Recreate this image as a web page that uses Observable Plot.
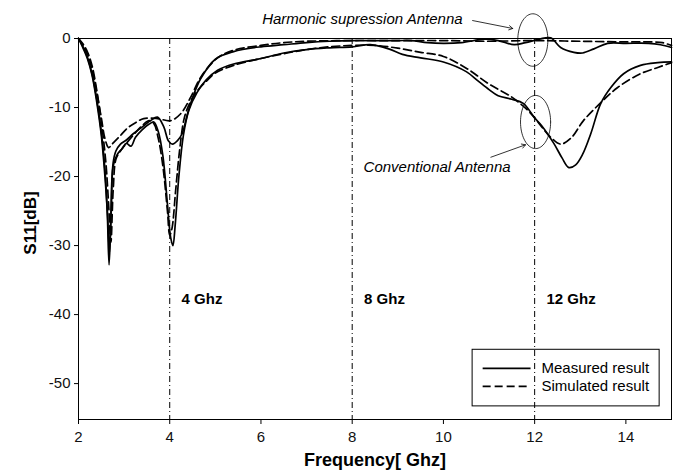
<!DOCTYPE html>
<html><head><meta charset="utf-8">
<script src="https://cdn.jsdelivr.net/npm/d3@7"></script>
<script src="https://cdn.jsdelivr.net/npm/@observablehq/plot@0.6"></script>
<style>body{margin:0;background:#fff}</style>
</head><body><div id="chart"></div>
<script>
// Frequency (GHz), S11 (dB)
const convMeasured = [[2.0,0],[2.1,-1.2],[2.2,-2.8],[2.3,-5.2],[2.4,-8.8],[2.5,-13.5],[2.58,-19],[2.63,-25],[2.67,-32.8],[2.71,-26],[2.76,-18.5],[2.85,-16.8],[2.95,-16],[3.05,-15.2],[3.15,-15.6],[3.25,-14.3],[3.4,-13.2],[3.55,-12.4],[3.65,-12.1],[3.75,-13.5],[3.85,-17],[3.95,-24],[4.02,-28.8],[4.07,-30],[4.12,-27],[4.2,-20],[4.3,-14],[4.42,-10.4],[4.6,-7.8],[4.8,-6.0],[5.05,-4.6],[5.4,-3.7],[6.0,-2.9],[6.5,-2.1],[7.0,-1.6],[7.5,-1.35],[8.0,-1.2],[8.4,-0.9],[8.8,-1.5],[9.1,-2.3],[9.5,-2.8],[10.0,-3.4],[10.5,-4.8],[10.75,-6.1],[11.0,-7.4],[11.2,-8.3],[11.5,-8.8],[11.75,-9.4],[12.0,-11.5],[12.15,-12.6],[12.42,-15.2],[12.6,-17.3],[12.75,-18.7],[12.9,-18.3],[13.05,-16.8],[13.23,-13.8],[13.45,-9.4],[13.67,-7.1],[13.95,-5.1],[14.32,-3.9],[14.7,-3.5],[15.0,-3.4]];
const convSimulated = [[2.0,0],[2.1,-0.8],[2.2,-2.0],[2.3,-4.0],[2.4,-7.5],[2.5,-12],[2.6,-18],[2.66,-24],[2.71,-29.5],[2.76,-22],[2.82,-17.5],[2.9,-16.5],[3.0,-15.6],[3.2,-14],[3.4,-12.6],[3.55,-11.9],[3.65,-12.3],[3.75,-14.5],[3.85,-18.5],[3.95,-25],[4.0,-28.5],[4.05,-27.5],[4.13,-22],[4.22,-16],[4.32,-11.5],[4.45,-9.2],[4.6,-7.6],[4.8,-6.2],[5.0,-5.0],[5.4,-3.9],[6.0,-2.9],[6.5,-2.2],[7.0,-1.6],[7.5,-1.2],[8.0,-1.0],[8.5,-1.0],[9.0,-1.4],[9.5,-2.0],[10.0,-2.6],[10.5,-4.3],[11.0,-6.6],[11.5,-8.5],[11.8,-10.1],[12.0,-11.5],[12.13,-12.6],[12.35,-14.3],[12.57,-15.3],[12.8,-14.4],[13.07,-11.9],[13.45,-9.3],[13.82,-7.1],[14.32,-5.1],[14.7,-4.2],[15.0,-3.5]];
const harmMeasured = [[2.0,0],[2.1,-1.4],[2.2,-3.0],[2.3,-5.4],[2.4,-9.2],[2.5,-14],[2.58,-20],[2.64,-26],[2.68,-31],[2.72,-24],[2.76,-18],[2.82,-16.3],[2.92,-15.3],[3.05,-14.7],[3.2,-13.8],[3.4,-12.8],[3.58,-11.9],[3.73,-11.4],[3.87,-12.8],[3.97,-14.8],[4.06,-15.3],[4.17,-14.8],[4.27,-13.8],[4.39,-10.9],[4.5,-8.6],[4.68,-5.8],[5.0,-3.0],[5.4,-1.9],[6.0,-1.2],[6.5,-0.9],[7.0,-0.6],[7.5,-0.4],[8.0,-0.3],[8.5,-0.3],[9.0,-0.3],[9.3,-0.3],[9.65,-0.6],[10.0,-0.7],[10.4,-0.6],[10.9,-0.1],[11.2,-0.3],[11.55,-0.9],[11.8,-0.6],[12.1,-0.1],[12.35,0.1],[12.57,-1.3],[12.86,-2.0],[13.05,-2.1],[13.3,-1.5],[13.6,-0.7],[14.0,-0.7],[14.5,-0.7],[14.76,-0.9],[15.0,-1.3]];
const harmSimulated = [[2.0,0],[2.1,-1.0],[2.2,-2.3],[2.3,-4.5],[2.4,-7.8],[2.5,-11.5],[2.58,-14.5],[2.66,-15.8],[2.75,-15.2],[2.9,-14.2],[3.07,-13],[3.25,-12.2],[3.43,-11.6],[3.73,-11.6],[4.02,-11.9],[4.24,-10.9],[4.46,-8.5],[4.68,-5.6],[5.05,-2.8],[5.4,-1.7],[6.0,-1.0],[6.5,-0.6],[7.0,-0.4],[8.0,-0.3],[9.0,-0.3],[10.0,-0.3],[11.0,-0.4],[12.0,-0.3],[13.0,-0.4],[14.0,-0.5],[14.6,-0.5],[14.8,-0.6],[15.0,-1.0]];

const xTicks = [2,4,6,8,10,12,14];
const yTicks = [0,-10,-20,-30,-40,-50];
const markerFreqs = [4,8,12];
const markerLabels = ["4 Ghz","8 Ghz","12 Ghz"];
const legendNames = ["Measured result","Simulated result"];
const annotationTexts = ["Harmonic supression Antenna","Conventional Antenna"];

// annotation geometry (data units)
function ellipse(cx, cy, rx, ry) {
  return d3.range(0, 73).map(i => {
    const t = i / 72 * 2 * Math.PI;
    return {x: cx + rx * Math.cos(t), y: cy + ry * Math.sin(t)};
  });
}
const ell1 = ellipse(11.96, -0.22, 0.33, 3.8);
const ell2 = ellipse(12.02, -12.1, 0.33, 3.85);
const arrows = [
  {x1: 10.64, y1: 2.6, x2: 11.52, y2: 1.45},
  {x1: 11.04, y1: -17.2, x2: 11.8, y2: -15.4}
];
const annotEnd = [{x: 10.42, y: 2.75, t: annotationTexts[0]}];
const annotStart = [{x: 8.25, y: -18.7, t: annotationTexts[1]}];
const legendBox = [{x1: 10.64, x2: 14.74, y1: -45.1, y2: -53.3}];
const legendSolid = [{x1: 10.86, x2: 11.91, y: -47.8, tx: 12.15, name: legendNames[0]}];
const legendDashed = [{x1: 10.86, x2: 11.91, y: -50.4, tx: 12.15, name: legendNames[1]}];
const markers = markerFreqs.map((f, i) => ({f, label: markerLabels[i]}));

const fx = d => d[0], fy = d => d[1];
const solid = {x: fx, y: fy, curve: "catmull-rom", stroke: "black", strokeWidth: 1.7};
const dashed = {...solid, strokeDasharray: "8,4"};

const chart = Plot.plot({
  width: 678, height: 471,
  marginLeft: 78, marginRight: 7, marginTop: 38, marginBottom: 52,
  style: {fontFamily: "'Liberation Sans', Arial, sans-serif", fontSize: "15px", color: "black", background: "white", overflow: "visible"},
  x: {domain: [2, 15]},
  y: {domain: [-55.2, 0]},
  marks: [
    Plot.ruleX(markers, {x: "f", stroke: "black", strokeWidth: 1, strokeDasharray: "6,3,1,3"}),
    Plot.text(markers, {x: d => d.f + 0.26, y: -37.7, text: "label", textAnchor: "start", fontWeight: "bold", fontSize: 15}),
    Plot.line(convMeasured, solid),
    Plot.line(convSimulated, dashed),
    Plot.line(harmMeasured, solid),
    Plot.line(harmSimulated, dashed),
    Plot.line(ell1, {x: "x", y: "y", stroke: "black", strokeWidth: 0.8}),
    Plot.line(ell2, {x: "x", y: "y", stroke: "black", strokeWidth: 0.8}),
    Plot.arrow(arrows, {x1: "x1", y1: "y1", x2: "x2", y2: "y2", bend: 0, headLength: 8, strokeWidth: 0.8, stroke: "black"}),
    Plot.text(annotEnd, {x: "x", y: "y", text: "t", textAnchor: "end", fontStyle: "italic", fontSize: 15}),
    Plot.text(annotStart, {x: "x", y: "y", text: "t", textAnchor: "start", fontStyle: "italic", fontSize: 15}),
    Plot.rect(legendBox, {x1: "x1", x2: "x2", y1: "y1", y2: "y2", fill: "none", stroke: "black", strokeWidth: 1}),
    Plot.link(legendSolid, {x1: "x1", x2: "x2", y1: "y", y2: "y", stroke: "black", strokeWidth: 1.7}),
    Plot.link(legendDashed, {x1: "x1", x2: "x2", y1: "y", y2: "y", stroke: "black", strokeWidth: 1.7, strokeDasharray: "8,4"}),
    Plot.text(legendSolid, {x: "tx", y: "y", text: "name", textAnchor: "start", fontSize: 15}),
    Plot.text(legendDashed, {x: "tx", y: "y", text: "name", textAnchor: "start", fontSize: 15}),
    Plot.frame({stroke: "black", strokeWidth: 1}),
    Plot.axisX({ticks: xTicks, tickSize: 5, label: null, tickFormat: () => ""}),
    Plot.axisY({ticks: yTicks, tickSize: 4, label: null, tickFormat: () => ""}),
    Plot.text(xTicks, {x: d => d, frameAnchor: "bottom", lineAnchor: "middle", dy: 18, text: d => String(d), fontSize: 15, fill: "#111"}),
    Plot.text(yTicks, {y: d => d, frameAnchor: "left", dx: -8, textAnchor: "end", text: d => String(d), fontSize: 15, fill: "#111"}),
    Plot.text(["Frequency[ Ghz]"], {frameAnchor: "bottom", lineAnchor: "middle", dy: 41, text: d => d, fontWeight: "bold", fontSize: 18}),
    Plot.text(["S11[dB]"], {frameAnchor: "left", textAnchor: "middle", lineAnchor: "middle", dx: -48, dy: -6, rotate: -90, text: d => d, fontWeight: "bold", fontSize: 17})
  ]
});
document.getElementById("chart").appendChild(chart);
</script>
</body></html>
